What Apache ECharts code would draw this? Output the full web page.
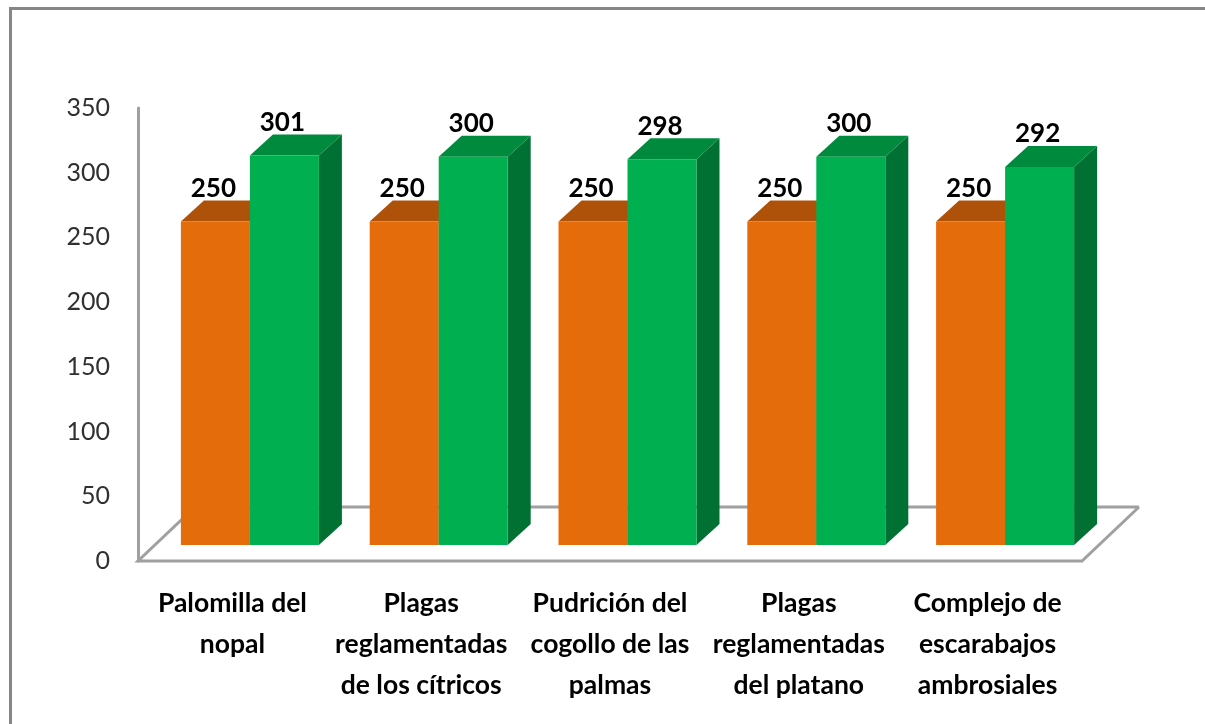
<!DOCTYPE html>
<html><head><meta charset="utf-8">
<style>html,body{margin:0;padding:0;background:#fff}#c{width:1205px;height:724px}</style>
<script src="https://cdn.jsdelivr.net/npm/echarts@6/dist/echarts.min.js"></script>
</head><body><div id="c"></div>
<script>
const categories = ['Palomilla del\nnopal','Plagas\nreglamentadas\nde los cítricos','Pudrición del\ncogollo de las\npalmas','Plagas\nreglamentadas\ndel platano','Complejo de\nescarabajos\nambrosiales'];
const seriesA = [250,250,250,250,250];
const seriesB = [301,300,298,300,292];
const yTicks = {min:0,max:350,interval:50};

const FONT='Lato';
const DEPTH_X=23, DEPTH_Y=21;      // oblique depth of a bar
const OFF_X=17.5, OFF_Y=16;        // bars stand inside the floor
const BAR_W=69;
const FLOOR_X=57, FLOOR_Y=54;

function floorItem(params, api){
  const cs=params.coordSys;
  const x0=cs.x, x1=cs.x+cs.width, y=cs.y+cs.height;
  return {type:'group',children:[
    {type:'polyline',shape:{points:[[x1+FLOOR_X,y-FLOOR_Y],[x1,y],[x0,y],[x0+FLOOR_X,y-FLOOR_Y],[x1+FLOOR_X,y-FLOOR_Y]]},
     style:{fill:'#fff',stroke:'#a0a0a0',lineWidth:3}}
  ]};
}
function barItem(side,front,top,dark){
  return function(params,api){
    const c=api.coord([api.value(0),api.value(1)]);
    const b=api.coord([api.value(0),0]);
    const left=(side<0? c[0]+OFF_X-BAR_W : c[0]+OFF_X);
    const right=left+BAR_W;
    const t=c[1]-OFF_Y, bt=b[1]-OFF_Y;
    const kids=[];
    kids.push({type:'polygon',shape:{points:[[right,t],[right+DEPTH_X,t-DEPTH_Y],[right+DEPTH_X,bt-DEPTH_Y],[right,bt]]},style:{fill:dark}});
    kids.push({type:'polygon',shape:{points:[[left,t],[left+DEPTH_X,t-DEPTH_Y],[right+DEPTH_X,t-DEPTH_Y],[right,t]]},style:{fill:top}});
    kids.push({type:'rect',shape:{x:left,y:t,width:BAR_W,height:bt-t},style:{fill:front}});
    kids.push({type:'text',style:{text:String(api.value(1)),x:(left+right)/2-2,y:t-33,align:'center',verticalAlign:'middle',
      font:'bold 26px '+FONT,fill:'#000'},z2:50});
    return {type:'group',children:kids};
  };
}
const chart=echarts.init(document.getElementById('c'));
chart.setOption({
  animation:false,
  backgroundColor:'#fff',
  graphic:[{type:'polyline',shape:{points:[[10.5,730],[10.5,8.5],[1210,8.5]]},style:{fill:'none',stroke:'#868686',lineWidth:3},silent:true}],
  grid:{left:138,right:123,top:108,bottom:163,containLabel:false},
  xAxis:{type:'category',data:categories,
    axisLine:{show:false},axisTick:{show:false},
    axisLabel:{interval:0,margin:22,fontFamily:FONT,fontWeight:'bold',fontSize:26.5,color:'#000',lineHeight:41,align:'center'}},
  yAxis:{type:'value',min:yTicks.min,max:yTicks.max,interval:yTicks.interval,
    splitLine:{show:false},axisTick:{show:false},
    axisLine:{show:true,lineStyle:{color:'#a0a0a0',width:3}},
    axisLabel:{margin:28,fontFamily:FONT,fontSize:25,color:'#303030',padding:[2,0,0,0]}},
  series:[
    {type:'custom',name:'floor',data:[[0,0]],renderItem:floorItem,z:1,silent:true},
    {type:'custom',name:'A',data:categories.map((c,i)=>[i,seriesA[i]]),encode:{x:0,y:1},renderItem:barItem(-1,'#E46C0A','#AE520A','#AE520A'),z:3},
    {type:'custom',name:'B',data:categories.map((c,i)=>[i,seriesB[i]]),encode:{x:0,y:1},renderItem:barItem(1,'#00B050','#008A3E','#007033'),z:4}
  ]
});
</script></body></html>
